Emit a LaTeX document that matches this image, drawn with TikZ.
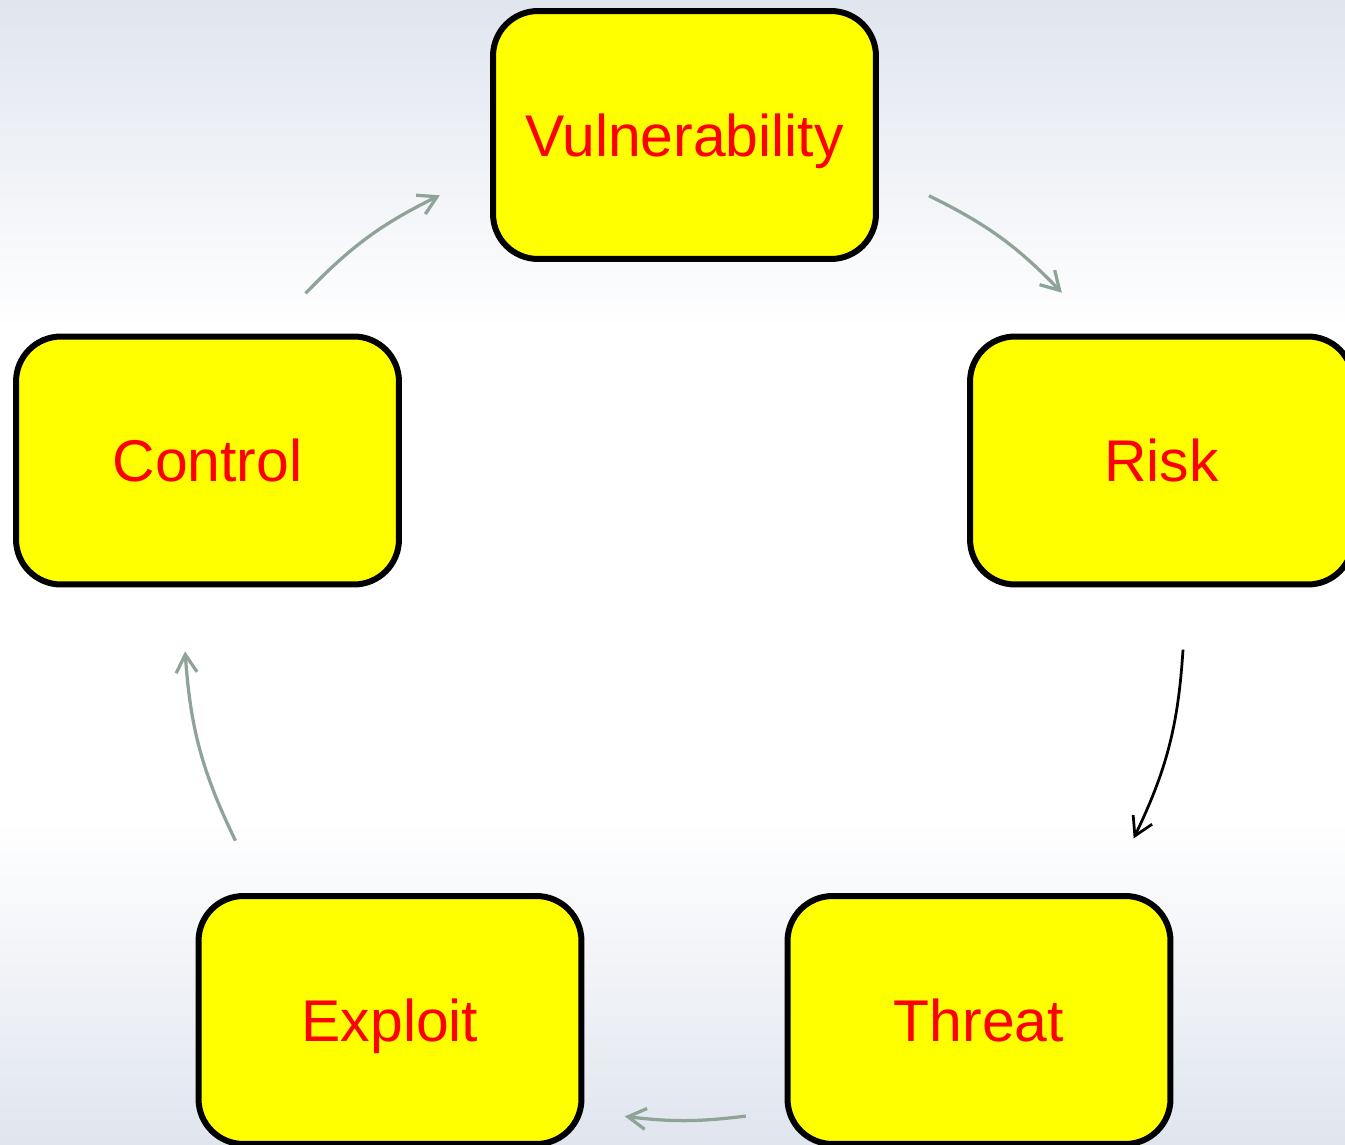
\documentclass[tikz,border=0pt]{standalone}
\usepackage{fontspec}
\setmainfont{Liberation Sans}
\usetikzlibrary{calc,positioning,arrows.meta}
\definecolor{boxyellow}{RGB}{255,255,0}
\definecolor{flowgrey}{RGB}{143,163,153}
\definecolor{bgblue}{RGB}{224,229,238}
\tikzset{
    stage/.style={rectangle, rounded corners=0.9cm, draw=black, line width=0.12cm,
        fill=boxyellow, text=red, minimum width=7.66cm, minimum height=4.96cm,
        font=\fontsize{33.5}{40}\selectfont, text height=24pt, text depth=0pt},
    flow/.style={draw=flowgrey, line width=0.065cm, -{Straight Barb[length=0.36cm, width=0.42cm]}},
    darkflow/.style={flow, draw=black, line width=0.055cm}
}

\begin{document}
\begin{tikzpicture}[x=0.02cm, y=-0.02cm]
    \useasboundingbox (0,0) rectangle (1345,1145);
    \clip (0,0) rectangle (1345,1145);
    % background
    \fill[white] (0,0) rectangle (1345,1145);
    \shade[top color=bgblue, bottom color=white] (0,0) rectangle (1345,330);
    \shade[top color=white, bottom color=bgblue] (0,820) rectangle (1345,1145);

    % Nodes
    \node[stage] (vul) at (684.5,135) {Vulnerability};
    \node[stage] (risk) at (1161.5,460.5) {Risk};
    \node[stage] (thr) at (979,1020) {Threat};
    \node[stage] (exp) at (390,1020) {Exploit};
    \node[stage] (ctl) at (207.5,460.5) {Control};

    % arrow ends on the ring
    \coordinate (mid) at (684,620);
    \coordinate (ctlout) at ($(mid)+(139.2:10cm)$);
    \coordinate (vulin)  at ($(mid)+(119.9:9.8cm)$);
    \coordinate (vulout) at ($(mid)+(60:9.8cm)$);
    \coordinate (riskin) at ($(mid)+(40.9:10cm)$);
    \coordinate (riskout) at ($(mid)+(-3.4:10cm)$);
    \coordinate (thrin)  at ($(mid)+(-25.9:10cm)$);
    \coordinate (throut) at ($(mid)+(-82.9:10cm)$);
    \coordinate (expin)  at ($(mid)+(-96.8:10cm)$);
    \coordinate (expout) at ($(mid)+(206.2:10cm)$);
    \coordinate (ctlin)  at ($(mid)+(183.6:10cm)$);

    % edges
    \draw[flow] (ctlout) to[bend left=10] (vulin);
    \draw[flow] (vulout) to[bend left=10] (riskin);
    \draw[darkflow] (riskout) to[bend left=11] (thrin);
    \draw[flow] (throut) to[bend left=7] (expin);
    \draw[flow] (expout) to[bend left=11] (ctlin);
\end{tikzpicture}
\end{document}
